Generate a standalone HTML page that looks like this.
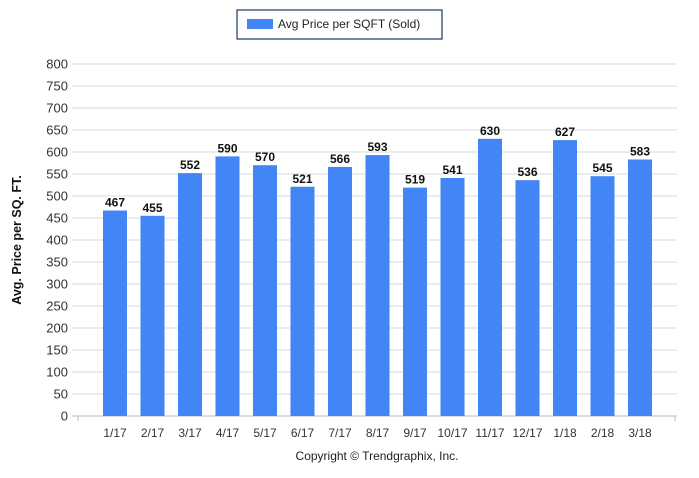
<!DOCTYPE html>
<html><head><meta charset="utf-8"><style>
body{margin:0;background:#fff;font-family:"Liberation Sans",sans-serif}
svg text{font-family:"Liberation Sans",sans-serif}
</style></head><body>
<svg width="699" height="473">
<g>
<rect x="237" y="10" width="205" height="29" fill="#fff" stroke="#1f3864" stroke-width="1.2"/>
<rect x="247" y="19" width="26" height="10" fill="#4285f4"/>
<text x="278" y="28" font-size="12" fill="#222">Avg Price per SQFT (Sold)</text>
</g>
<g id="grid"></g><g id="bars"></g>
<text transform="translate(21,240) rotate(-90)" text-anchor="middle" font-size="12.5" font-weight="bold" fill="#111">Avg. Price per SQ. FT.</text>
<text x="377" y="460" text-anchor="middle" font-size="12" fill="#222">Copyright © Trendgraphix, Inc.</text>
</svg>
<script>
const categories=["1/17","2/17","3/17","4/17","5/17","6/17","7/17","8/17","9/17","10/17","11/17","12/17","1/18","2/18","3/18"];
const values=[467,455,552,590,570,521,566,593,519,541,630,536,627,545,583];
const yTicks=[0,50,100,150,200,250,300,350,400,450,500,550,600,650,700,750,800];
const NS="http://www.w3.org/2000/svg";
const y=v=>416-v*0.44;
const x=i=>115+i*37.5;
const grid=document.getElementById('grid'),bars=document.getElementById('bars');
function mk(tag,attrs,parent,text){const e=document.createElementNS(NS,tag);for(const k in attrs)e.setAttribute(k,attrs[k]);if(text!=null)e.textContent=text;parent.appendChild(e);return e;}
yTicks.forEach(t=>{
 const l=mk('line',{x1:72,x2:677,y1:y(t),y2:y(t),stroke:t===0?'#bbb':'#d9d9d9','stroke-width':1},grid);
 
 
 const tx=mk('text',{x:68,y:y(t)+4.5,'text-anchor':'end','font-size':13,fill:'#333'},grid,t);
 
 
});
mk('line',{x1:78,x2:78,y1:416,y2:421,stroke:'#bbb'},grid);
mk('line',{x1:675,x2:675,y1:416,y2:421,stroke:'#bbb'},grid);
categories.forEach((c,i)=>{
 const r=mk('rect',{x:x(i)-12,y:y(values[i]),width:24,height:416-y(values[i]),fill:'#4285f4'},bars);
 
 
 const v=mk('text',{x:x(i),y:y(values[i])-4,'text-anchor':'middle','font-size':12,'font-weight':'bold',fill:'#111'},bars,values[i]);
 
 
 const lb=mk('text',{x:x(i),y:437,'text-anchor':'middle','font-size':12,fill:'#333'},bars,c);
 
 
});
</script>
</body></html>
